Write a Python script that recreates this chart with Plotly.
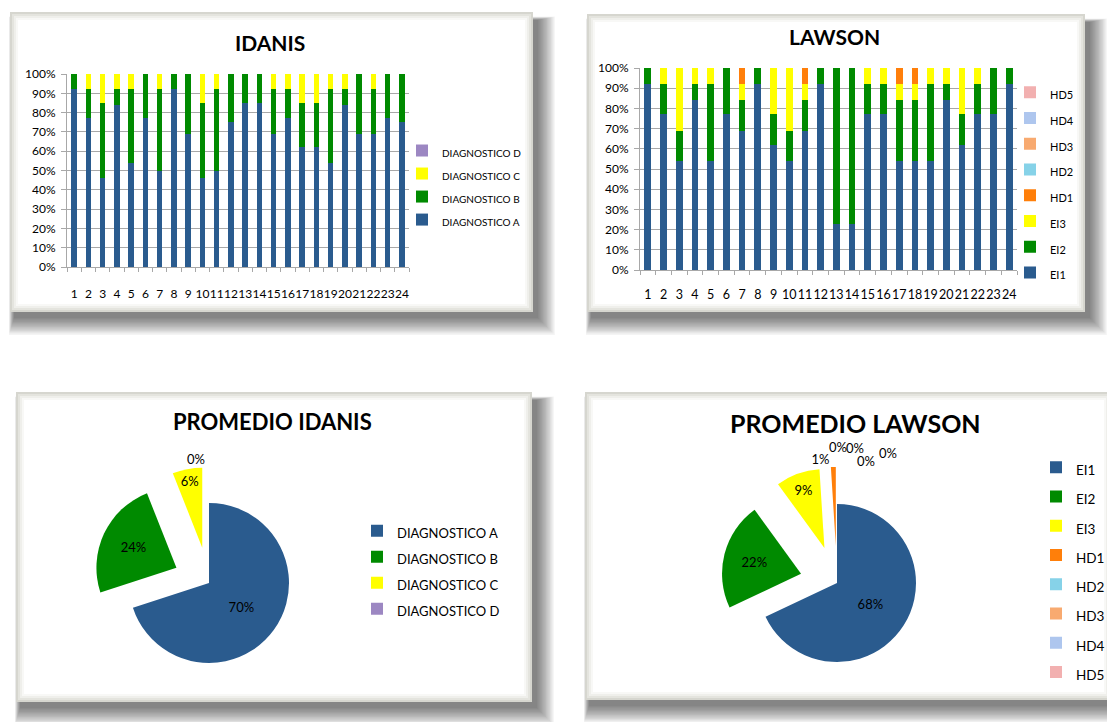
import plotly.graph_objects as go

W, H = 1107, 722

# ---------------- data ----------------
pacientes = [str(i) for i in range(1, 25)]

idanis_series = ["DIAGNOSTICO A", "DIAGNOSTICO B", "DIAGNOSTICO C", "DIAGNOSTICO D"]
diag_a = [92, 77, 46, 84, 54, 77, 50, 92, 69, 46, 50, 75, 85, 85, 69, 77, 62, 62, 54, 84, 69, 69, 77, 75]
diag_b = [8, 15, 39, 8, 38, 23, 42, 8, 31, 39, 42, 25, 15, 15, 23, 15, 23, 23, 38, 8, 31, 23, 23, 25]
diag_c = [0, 8, 15, 8, 8, 0, 8, 0, 0, 15, 8, 0, 0, 0, 8, 8, 15, 15, 8, 8, 0, 8, 0, 0]
diag_d = [0] * 24

lawson_series = ["EI1", "EI2", "EI3", "HD1", "HD2", "HD3", "HD4", "HD5"]
ei1 = [92, 77, 54, 84, 54, 77, 69, 92, 62, 54, 69, 92, 23, 23, 77, 77, 54, 54, 54, 84, 62, 77, 77, 92]
ei2 = [8, 15, 15, 8, 38, 23, 15, 8, 15, 15, 15, 8, 77, 77, 15, 15, 30, 30, 38, 8, 15, 15, 23, 8]
ei3 = [0, 8, 31, 8, 8, 0, 8, 0, 23, 31, 8, 0, 0, 0, 8, 8, 8, 8, 8, 8, 23, 8, 0, 0]
hd1 = [0, 0, 0, 0, 0, 0, 8, 0, 0, 0, 8, 0, 0, 0, 0, 0, 8, 8, 0, 0, 0, 0, 0, 0]
hd2 = [0] * 24
hd3 = [0] * 24
hd4 = [0] * 24
hd5 = [0] * 24

promedio_idanis = [70, 24, 6, 0]
promedio_lawson = [68, 22, 9, 1, 0, 0, 0, 0]

y_ticks = [0, 10, 20, 30, 40, 50, 60, 70, 80, 90, 100]
y_tick_labels = ["%d%%" % v for v in y_ticks]

# ---------------- styles ----------------
idanis_colors = ["#2a5b8e", "#008a00", "#ffff00", "#9c87c2"]
lawson_colors = ["#2a5b8e", "#008a00", "#ffff00", "#ff7f0a", "#86d2e8", "#f8aa70", "#aec6ee", "#f2b0b0"]
FONT = "Lato, 'Open Sans', sans-serif"
GRID = "#a8a8a8"


def px(x):
    return x / W


def py(y):
    return 1 - y / H


def span(s, size):
    return '<span style="font-size:%spx">%s</span>' % (size, s)


fig = go.Figure()

# IDANIS stacked bars
for name, vals, col in zip(idanis_series, [diag_a, diag_b, diag_c, diag_d], idanis_colors):
    fig.add_trace(go.Bar(x=pacientes, y=vals, name=span(name, 10), marker=dict(color=col, line=dict(width=0)),
                         xaxis="x", yaxis="y", legend="legend"))

# LAWSON stacked bars
for name, vals, col in zip(lawson_series, [ei1, ei2, ei3, hd1, hd2, hd3, hd4, hd5], lawson_colors):
    fig.add_trace(go.Bar(x=pacientes, y=vals, name=span(name, 11), marker=dict(color=col, line=dict(width=0)),
                         xaxis="x2", yaxis="y2", legend="legend2", width=0.43))

# Pies
r1, cx1, cy1, pull1 = 80, 209, 583, 0.45
half1 = r1 * (1 + pull1)
fig.add_trace(go.Pie(
    labels=[span(s, 13) for s in idanis_series],
    values=promedio_idanis, sort=False, direction="clockwise", rotation=0,
    marker=dict(colors=idanis_colors, line=dict(width=0)),
    pull=[0, pull1, pull1, pull1],
    texttemplate="%{percent:.0%}", textposition=["inside", "inside", "inside", "outside"],
    insidetextorientation="horizontal",
    textfont=dict(family=FONT, size=13, color="black"),
    domain=dict(x=[px(cx1 - half1), px(cx1 + half1)], y=[py(cy1 + half1), py(cy1 - half1)]),
    legend="legend3", showlegend=True))

r2, cx2, cy2, pull2 = 79, 837, 583, 0.47
half2 = r2 * (1 + pull2)
lawson_text_tpl = ["%{percent:.0%}" if v > 0 else "" for v in promedio_lawson]
fig.add_trace(go.Pie(
    labels=[span(s, 13.5) for s in lawson_series],
    values=promedio_lawson, sort=False, direction="clockwise", rotation=0,
    marker=dict(colors=lawson_colors, line=dict(width=0)),
    pull=[0] + [pull2] * 7,
    texttemplate=lawson_text_tpl,
    textposition=["inside", "inside", "inside"] + ["outside"] * 5,
    insidetextorientation="horizontal",
    textfont=dict(family=FONT, size=13, color="black"),
    domain=dict(x=[px(cx2 - half2), px(cx2 + half2)], y=[py(cy2 + half2), py(cy2 - half2)]),
    legend="legend4", showlegend=True))

# ---------------- frames (torn paper look) ----------------
shapes = []
frames = [(10, 12, 533, 312), (587, 14, 1085, 312), (16, 392, 532, 702), (585, 392, 1112, 700)]
for (x0, y0, x1, y1) in frames:
    for k in range(14):
        e = k * 1.3
        shapes.append(dict(type="rect", xref="paper", yref="paper", layer="below",
                           x0=px(x0 + 4 - e * 0.3), x1=px(x1 + 5 + e), y0=py(y1 + 6 + e), y1=py(y0 + 8 - e * 0.2),
                           fillcolor="rgba(0,0,0,0.045)", line=dict(width=0)))
    for inset, colr in [(0, "#d6d6cf"), (2, "#e4e4de"), (4, "#efefeb"), (6, "#f8f8f6"), (8, "#ffffff")]:
        shapes.append(dict(type="rect", xref="paper", yref="paper", layer="below",
                           x0=px(x0 + inset), x1=px(x1 - inset), y0=py(y1 - inset), y1=py(y0 + inset),
                           fillcolor=colr, line=dict(width=0)))

annotations = [
    dict(text="<b>IDANIS</b>", x=px(270), y=py(42), xref="paper", yref="paper", showarrow=False,
         xanchor="center", yanchor="middle", font=dict(family=FONT, size=21, color="black")),
    dict(text="<b>LAWSON</b>", x=px(834), y=py(37), xref="paper", yref="paper", showarrow=False,
         xanchor="center", yanchor="middle", font=dict(family=FONT, size=21, color="black")),
    dict(text="<b>PROMEDIO IDANIS</b>", x=px(272), y=py(421), xref="paper", yref="paper", showarrow=False,
         xanchor="center", yanchor="middle", font=dict(family=FONT, size=22, color="black")),
    dict(text="<b>PROMEDIO LAWSON</b>", x=px(855), y=py(423), xref="paper", yref="paper", showarrow=False,
         xanchor="center", yanchor="middle", font=dict(family=FONT, size=25, color="black")),
]

# labels of the zero-valued LAWSON slices (Excel scatters them above the pie)
zero_label_pos = [(838, 447), (855, 448), (866, 461), (888, 453)]
zero_vals = [v for v in promedio_lawson if v == 0]
for (zx, zy), v in zip(zero_label_pos, zero_vals):
    annotations.append(dict(text="%d%%" % v, x=px(zx), y=py(zy), xref="paper", yref="paper", showarrow=False,
                            xanchor="center", yanchor="middle", font=dict(family=FONT, size=13, color="black")))

axis_common_y = dict(range=[0, 100], tickvals=y_ticks, ticktext=y_tick_labels, showgrid=True, gridcolor=GRID,
                     gridwidth=1, showline=True, linecolor=GRID, ticks="outside", ticklen=5,
                     tickcolor=GRID, zeroline=False, fixedrange=True, automargin=False)
axis_common_x = dict(type="category", showline=True, linecolor=GRID, ticks="outside", ticklen=4,
                     tickcolor=GRID, tickson="boundaries", showgrid=False, tickangle=0, automargin=False)

fig.update_layout(
    width=W, height=H, autosize=False,
    margin=dict(l=0, r=0, t=0, b=0, autoexpand=False),
    paper_bgcolor="white", plot_bgcolor="rgba(0,0,0,0)",
    barmode="stack", bargap=0.62,
    font=dict(family=FONT, color="black"),
    shapes=shapes, annotations=annotations,
    xaxis=dict(domain=[px(67), px(409)], anchor="y", ticklabelstandoff=16,
               tickfont=dict(family=FONT, size=12), **axis_common_x),
    yaxis=dict(domain=[py(267), py(74)], anchor="x", ticklabelstandoff=3,
               tickfont=dict(family=FONT, size=12), **axis_common_y),
    xaxis2=dict(domain=[px(640), px(1017)], anchor="y2", ticklabelstandoff=13,
                tickfont=dict(family=FONT, size=12.5), **axis_common_x),
    yaxis2=dict(domain=[py(270), py(68)], anchor="x2", ticklabelstandoff=3,
                tickfont=dict(family=FONT, size=12), **axis_common_y),
    legend=dict(x=px(402), y=py(134), xanchor="left", yanchor="top", traceorder="reversed",
                bgcolor="rgba(0,0,0,0)", font=dict(family=FONT, size=15.4)),
    legend2=dict(x=px(1010), y=py(74.3), xanchor="left", yanchor="top", traceorder="reversed",
                 bgcolor="rgba(0,0,0,0)", font=dict(family=FONT, size=17.5)),
    legend3=dict(x=px(357), y=py(512.8), xanchor="left", yanchor="top", traceorder="normal",
                 bgcolor="rgba(0,0,0,0)", font=dict(family=FONT, size=17.7)),
    legend4=dict(x=px(1036), y=py(447.5), xanchor="left", yanchor="top", traceorder="normal",
                 bgcolor="rgba(0,0,0,0)", font=dict(family=FONT, size=20.2)),
)

fig.write_html("out.html")
